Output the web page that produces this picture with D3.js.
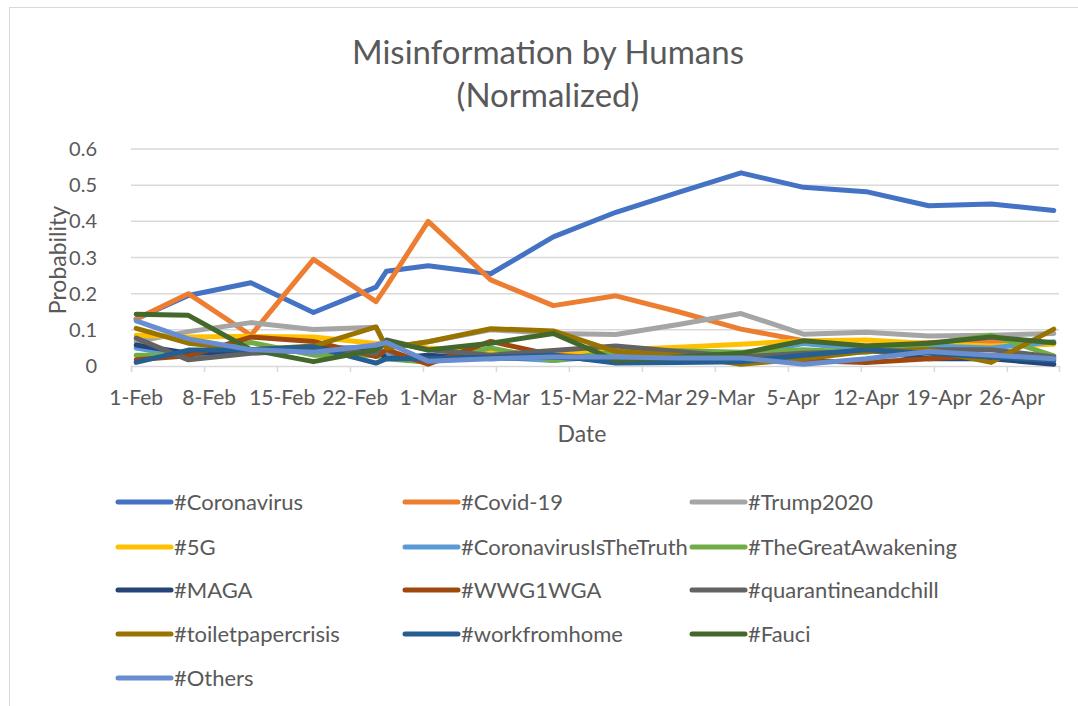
<!DOCTYPE html>
<html><head><meta charset="utf-8">
<script src="https://cdn.jsdelivr.net/npm/d3@7"></script>
<style>
html,body{margin:0;padding:0;background:#fff;}
svg{display:block;}
text{font-family:Lato,"Open Sans",sans-serif;fill:#595959;}
</style></head>
<body>
<svg id="chart" width="1078" height="706"></svg>
<script>
const dates = ["2021-02-01","2021-02-06","2021-02-12","2021-02-18","2021-02-24","2021-02-25","2021-03-01","2021-03-07","2021-03-13","2021-03-19","2021-03-25","2021-03-31","2021-04-06","2021-04-12","2021-04-18","2021-04-24","2021-04-30"];
const coronavirus = [0.13,0.195,0.23,0.148,0.218,0.262,0.277,0.255,0.357,0.425,0.48,0.534,0.494,0.482,0.443,0.448,0.43];
const covid19 = [0.13,0.2,0.085,0.295,0.178,0.22,0.4,0.238,0.167,0.194,0.15,0.102,0.07,0.055,0.065,0.068,0.062];
const trump2020 = [0.067,0.095,0.12,0.101,0.107,0.05,0.067,0.1,0.09,0.087,0.115,0.145,0.088,0.093,0.083,0.085,0.09];
const fiveG = [0.085,0.08,0.082,0.08,0.062,0.063,0.05,0.04,0.03,0.045,0.052,0.06,0.07,0.072,0.062,0.055,0.06];
const coronavirusIsTheTruth = [0.05,0.025,0.04,0.045,0.04,0.03,0.02,0.025,0.015,0.03,0.03,0.03,0.062,0.045,0.055,0.05,0.067];
const theGreatAwakening = [0.03,0.03,0.065,0.03,0.03,0.02,0.01,0.05,0.015,0.04,0.042,0.038,0.045,0.038,0.06,0.085,0.028];
const maga = [0.058,0.035,0.04,0.05,0.05,0.02,0.03,0.02,0.025,0.015,0.015,0.015,0.025,0.045,0.02,0.02,0.005];
const wwg1wga = [0.017,0.028,0.08,0.068,0.026,0.045,0.005,0.068,0.03,0.02,0.02,0.015,0.015,0.01,0.02,0.03,0.02];
const quarantineandchill = [0.077,0.017,0.035,0.045,0.035,0.072,0.045,0.03,0.043,0.055,0.04,0.025,0.035,0.04,0.045,0.045,0.025];
const toiletpapercrisis = [0.104,0.063,0.045,0.055,0.108,0.05,0.067,0.103,0.097,0.04,0.03,0.005,0.02,0.04,0.045,0.01,0.102];
const workfromhome = [0.01,0.044,0.045,0.053,0.008,0.02,0.02,0.025,0.03,0.008,0.01,0.012,0.03,0.045,0.035,0.025,0.015];
const fauci = [0.143,0.14,0.045,0.012,0.045,0.07,0.044,0.063,0.09,0.015,0.025,0.035,0.07,0.055,0.063,0.08,0.064];
const others = [0.125,0.075,0.045,0.038,0.058,0.065,0.013,0.02,0.025,0.025,0.022,0.022,0.005,0.02,0.04,0.03,0.02];

const seriesNames = ["#Coronavirus","#Covid-19","#Trump2020","#5G","#CoronavirusIsTheTruth","#TheGreatAwakening","#MAGA","#WWG1WGA","#quarantineandchill","#toiletpapercrisis","#workfromhome","#Fauci","#Others"];
const seriesValues = [coronavirus,covid19,trump2020,fiveG,coronavirusIsTheTruth,theGreatAwakening,maga,wwg1wga,quarantineandchill,toiletpapercrisis,workfromhome,fauci,others];
const colors = ["#4472C4","#ED7D31","#A5A5A5","#FFC000","#5B9BD5","#70AD47","#264478","#9E480E","#636363","#997300","#255E91","#43682B","#698ED0"];
const tickDates = ["2021-02-01","2021-02-08","2021-02-15","2021-02-22","2021-03-01","2021-03-08","2021-03-15","2021-03-22","2021-03-29","2021-04-05","2021-04-12","2021-04-19","2021-04-26"];
const tickLabels = ["1-Feb","8-Feb","15-Feb","22-Feb","1-Mar","8-Mar","15-Mar","22-Mar","29-Mar","5-Apr","12-Apr","19-Apr","26-Apr"];
const yTicks = [0,0.1,0.2,0.3,0.4,0.5,0.6];
const yTickLabels = ["0","0.1","0.2","0.3","0.4","0.5","0.6"];

const svg = d3.select("#chart");
const parse = d3.utcParse("%Y-%m-%d");
const HALF = 12*3600*1000;

const x = d3.scaleUtc().domain([parse("2021-02-01"), parse("2021-05-01")]).range([131, 1059]);
const y = d3.scaleLinear().domain([0, 0.6]).range([366, 149]);

// chart border
svg.append("rect").attr("x",9.5).attr("y",7.5).attr("width",1100).attr("height",720)
  .attr("fill","none").attr("stroke","#D9D9D9").attr("stroke-width",1);

// title
svg.append("text").attr("x",548).attr("y",64).attr("text-anchor","middle")
  .style("font-size","33px").text("Misinformation by Humans");
svg.append("text").attr("x",548).attr("y",107).attr("text-anchor","middle")
  .style("font-size","33px").text("(Normalized)");

// gridlines
svg.append("g").selectAll("line").data(yTicks.filter(d=>d>0)).join("line")
  .attr("x1",131).attr("x2",1059)
  .attr("y1",d=>y(d)).attr("y2",d=>y(d))
  .attr("stroke","#D9D9D9").attr("stroke-width",1.5);

// y labels
svg.append("g").selectAll("text").data(yTicks).join("text")
  .attr("x",97).attr("y",d=>y(d)).attr("dy","0.35em").attr("text-anchor","end")
  .style("font-size","20px").text((d,i)=>yTickLabels[i]);

// x axis
const xAxis = d3.axisBottom(x).tickValues(tickDates.map(parse)).tickSize(6).tickFormat("");
const gx = svg.append("g").attr("transform","translate(0,366)").call(xAxis);
gx.select(".domain").attr("stroke","#D9D9D9").attr("stroke-width",1.5);
gx.selectAll(".tick line").attr("stroke","#D9D9D9").attr("stroke-width",1.5);

svg.append("g").selectAll("text").data(tickDates).join("text")
  .attr("x",d=>x(new Date(parse(d).getTime()+HALF))).attr("y",398).attr("dy","0.35em")
  .attr("text-anchor","middle").style("font-size","21px").text((d,i)=>tickLabels[i]);

// axis titles
svg.append("text").attr("transform","translate(58,260) rotate(-90)").attr("text-anchor","middle")
  .attr("dy","0.35em").style("font-size","23px").text("Probability");
svg.append("text").attr("x",582).attr("y",434).attr("dy","0.35em").attr("text-anchor","middle")
  .style("font-size","23px").text("Date");

// lines
const line = d3.line()
  .x((d,i)=>x(new Date(parse(dates[i]).getTime()+HALF)))
  .y(d=>y(d));
svg.append("g").selectAll("path").data(seriesValues).join("path")
  .attr("d",d=>line(d)).attr("fill","none")
  .attr("stroke",(d,i)=>colors[i]).attr("stroke-width",5)
  .attr("stroke-linejoin","round").attr("stroke-linecap","round");

// legend
const colX = [118, 405, 692];
const rowY = [502, 547, 590, 634, 678];
const lg = svg.append("g").selectAll("g").data(seriesNames).join("g")
  .attr("transform",(d,i)=>`translate(${colX[i%3]},${rowY[Math.floor(i/3)]})`);
lg.append("line").attr("x1",0).attr("x2",53).attr("y1",0).attr("y2",0)
  .attr("stroke",(d,i)=>colors[i]).attr("stroke-width",5).attr("stroke-linecap","round");
lg.append("text").attr("x",56).attr("dy","0.35em").style("font-size","22px").text(d=>d);
</script>
</body></html>
